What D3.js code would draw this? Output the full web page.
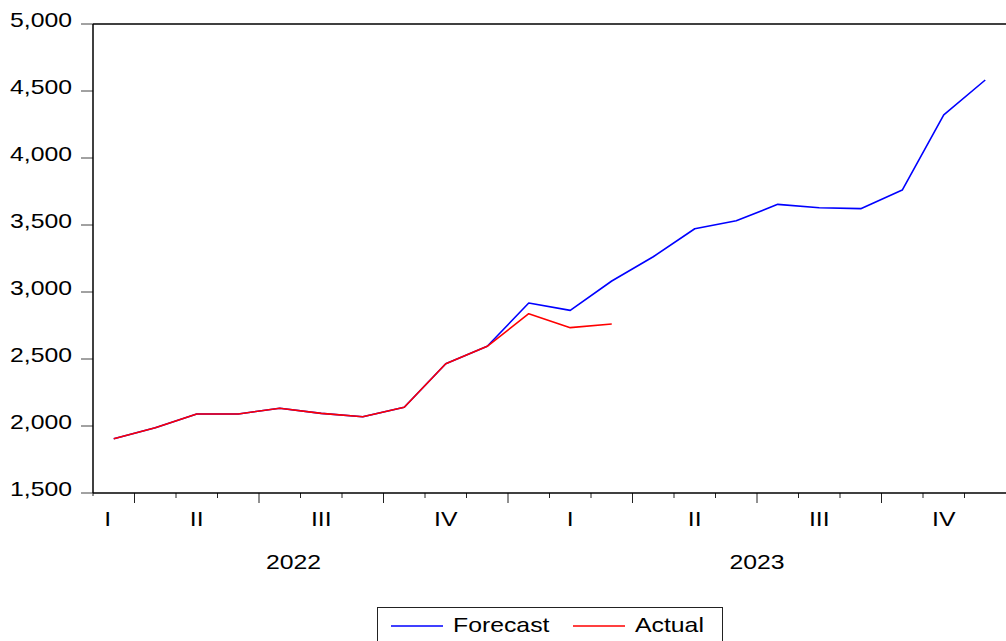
<!DOCTYPE html>
<html><head><meta charset="utf-8">
<script src="https://cdn.jsdelivr.net/npm/d3@7"></script>
<style>body{margin:0;background:#fff}svg{display:block}text{font-family:"Liberation Sans",Arial,sans-serif;fill:#000}</style>
</head><body>
<script>
// Monthly data, 2022M03 .. 2023M12
const months = ["2022M03","2022M04","2022M05","2022M06","2022M07","2022M08","2022M09","2022M10","2022M11","2022M12",
  "2023M01","2023M02","2023M03","2023M04","2023M05","2023M06","2023M07","2023M08","2023M09","2023M10","2023M11","2023M12"];
const forecast = [1905,1987,2090,2090,2132,2094,2069,2140,2465,2595,2918,2863,3082,3263,3472,3532,3654,3629,3622,3761,4321,4582];
const actual = [1905,1987,2090,2090,2132,2094,2069,2140,2465,2595,2838,2734,2761];
const yTicks = [1500,2000,2500,3000,3500,4000,4500,5000];
const quarterLabels = ["I","II","III","IV","I","II","III","IV"];
const quarterStarts = [0,1,4,7,10,13,16,19];
const quarterEnds = [1,4,7,10,13,16,19,22];
const years = ["2022","2023"];
const yearStarts = [0,10];
const yearEnds = [10,22];
const seriesNames = ["Forecast","Actual"];
const seriesColors = ["#0000ff","#ff0000"];

const W = 1006, H = 641;
const L = 93, R = 1006, T = 24, B = 493;
const SX = 1.24, FS = 20;

const svg = d3.select("body").append("svg").attr("width", W).attr("height", H);
const x = d3.scaleLinear().domain([0, months.length]).range([L, R]);
const y = d3.scaleLinear().domain([1500, 5000]).range([B, T]);

function txt(g, s, px, py, anchor) {
  return g.append("text").attr("transform", `translate(${px},${py}) scale(${SX},1)`)
    .attr("text-anchor", anchor).style("font-size", FS + "px").text(s);
}

// y axis ticks and labels
const ya = svg.append("g");
yTicks.forEach(v => {
  ya.append("line").attr("x1", L - 12).attr("x2", L).attr("y1", y(v)).attr("y2", y(v))
    .attr("stroke", "#444").attr("stroke-width", 1);
  txt(ya, d3.format(",")(v), L - 21, y(v) + 3, "end");
});

// x ticks: monthly, long at quarter boundaries
const xa = svg.append("g");
d3.range(0, months.length).forEach(i => {
  const isQ = quarterStarts.includes(i) && i > 0;
  xa.append("line").attr("x1", x(i)).attr("x2", x(i)).attr("y1", B)
    .attr("y2", B + (isQ ? 10 : (i === 0 ? 3 : 5))).attr("stroke", "#222").attr("stroke-width", 1);
});
quarterLabels.forEach((q, k) => {
  txt(xa, q, (x(quarterStarts[k]) + x(quarterEnds[k])) / 2 - (k === 0 ? 6 : 0), 526, "middle");
});
years.forEach((yr, k) => {
  txt(xa, yr, (x(yearStarts[k]) + x(yearEnds[k])) / 2 - (k === 0 ? 7 : 0), 569, "middle");
});

// frame
svg.append("line").attr("x1", L).attr("x2", R).attr("y1", T).attr("y2", T).attr("stroke", "#000").attr("stroke-width", 1.3);
svg.append("line").attr("x1", L).attr("x2", L).attr("y1", T).attr("y2", B).attr("stroke", "#000").attr("stroke-width", 1.5);
svg.append("line").attr("x1", L).attr("x2", R).attr("y1", B).attr("y2", B).attr("stroke", "#000").attr("stroke-width", 1.3);

const line = d3.line().x((d, i) => x(i + 0.5)).y(d => y(d));
svg.append("path").datum(forecast).attr("d", line).attr("fill", "none")
  .attr("stroke", seriesColors[0]).attr("stroke-width", 1.6).attr("stroke-linejoin", "round");
svg.append("path").datum(actual).attr("d", line).attr("fill", "none")
  .attr("stroke", seriesColors[1]).attr("stroke-width", 1.6).attr("stroke-linejoin", "round");

// legend
const lg = svg.append("g");
lg.append("rect").attr("x", 377.5).attr("y", 607.5).attr("width", 345).attr("height", 50)
  .attr("fill", "#fff").attr("stroke", "#222").attr("stroke-width", 1);
const legX = [391, 573];
seriesNames.forEach((n, k) => {
  lg.append("line").attr("x1", legX[k]).attr("x2", legX[k] + 52).attr("y1", 626).attr("y2", 626)
    .attr("stroke", seriesColors[k]).attr("stroke-width", 1.5);
  txt(lg, n, legX[k] + 62, 632, "start");
});
</script>
</body></html>
